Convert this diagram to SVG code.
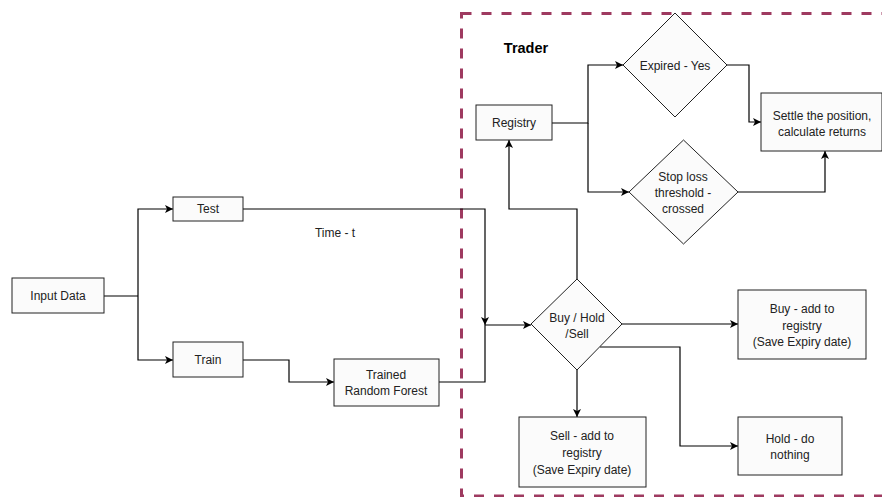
<svg xmlns="http://www.w3.org/2000/svg" width="882" height="497" viewBox="0 0 882 497">
<defs>
<marker id="arr" markerWidth="10" markerHeight="10" refX="9" refY="5" orient="auto" markerUnits="userSpaceOnUse">
<path d="M1,1 L9,5 L1,9 L3,5 Z" fill="#000"/>
</marker>
<style>
.n{fill:#fbfbfb;stroke:#222;stroke-width:1}
.t{font-family:"Liberation Sans",Arial,sans-serif;font-size:12px;fill:#222;text-anchor:middle;dominant-baseline:central}
.c{fill:none;stroke:#000;stroke-width:1.2}
.ca{fill:none;stroke:#000;stroke-width:1.2;marker-end:url(#arr)}
</style>
</defs>
<rect width="882" height="497" fill="#fff"/>
<g id="trader-boundary">
<rect x="461.5" y="13.5" width="440" height="482.5" fill="none" stroke="#9e3a60" stroke-width="3" stroke-dasharray="10 10"/>
<text x="526" y="48" class="t" style="font-weight:bold;font-size:14.5px;fill:#000">Trader</text>
</g>
<g id="connectors">
<path class="c" d="M104,296 H138"/>
<path class="ca" d="M138,296 V209 H173"/>
<path class="ca" d="M138,296 V360 H173"/>
<path class="ca" d="M243,360 H289 V382 H334"/>
<path class="ca" d="M243,209 H485 V325"/>
<path class="c" d="M439,382 H485 V325"/>
<path class="ca" d="M485,325 H531"/>
<path class="ca" d="M577,279 V209 H509 V140"/>
<path class="ca" d="M552,123 H588 V65 H623"/>
<path class="ca" d="M588,123 V192 H629"/>
<path class="ca" d="M727,65 H749 V122 H761"/>
<path class="ca" d="M738,192 H825 V151"/>
<path class="ca" d="M622,324 H738"/>
<path class="ca" d="M577,370 V417"/>
<path class="ca" d="M600,347 H680 V446 H738"/>
</g>
<text x="335" y="233" class="t">Time - t</text>
<g id="input-data"><rect class="n" x="12" y="278" width="92" height="35"/><text class="t" x="58" y="296">Input Data</text></g>
<g id="test"><rect class="n" x="173" y="197" width="70" height="24"/><text class="t" x="208" y="209">Test</text></g>
<g id="train"><rect class="n" x="173" y="342" width="70" height="35"/><text class="t" x="208" y="360">Train</text></g>
<g id="trained-rf"><rect class="n" x="334" y="359" width="105" height="47"/><text class="t" x="386" y="375">Trained</text><text class="t" x="386" y="391">Random Forest</text></g>
<g id="registry"><rect class="n" x="476" y="105" width="76" height="35"/><text class="t" x="514" y="123">Registry</text></g>
<g id="expired"><path class="n" d="M675,13 L727,65 L675,117 L623,65 Z"/><text class="t" x="675" y="66">Expired - Yes</text></g>
<g id="stop-loss"><path class="n" d="M683.5,140 L738,192 L683.5,244 L629,192 Z"/><text class="t" x="683" y="177">Stop loss</text><text class="t" x="683" y="193">threshold -</text><text class="t" x="683" y="209">crossed</text></g>
<g id="settle"><rect class="n" x="761" y="93" width="121" height="58"/><text class="t" x="822" y="116">Settle the position,</text><text class="t" x="822" y="132">calculate returns</text></g>
<g id="buy-hold-sell"><path class="n" d="M577,279 L622,324 L577,370 L531,324 Z"/><text class="t" x="577" y="318">Buy / Hold</text><text class="t" x="577" y="334">/Sell</text></g>
<g id="buy"><rect class="n" x="738" y="290" width="128" height="69"/><text class="t" x="802" y="309">Buy - add to</text><text class="t" x="802" y="326">registry</text><text class="t" x="802" y="342">(Save Expiry date)</text></g>
<g id="sell"><rect class="n" x="519" y="417" width="127" height="70"/><text class="t" x="582" y="436">Sell - add to</text><text class="t" x="582" y="453">registry</text><text class="t" x="582" y="470">(Save Expiry date)</text></g>
<g id="hold"><rect class="n" x="738" y="417" width="104" height="58"/><text class="t" x="790" y="439">Hold - do</text><text class="t" x="790" y="455">nothing</text></g>
</svg>
